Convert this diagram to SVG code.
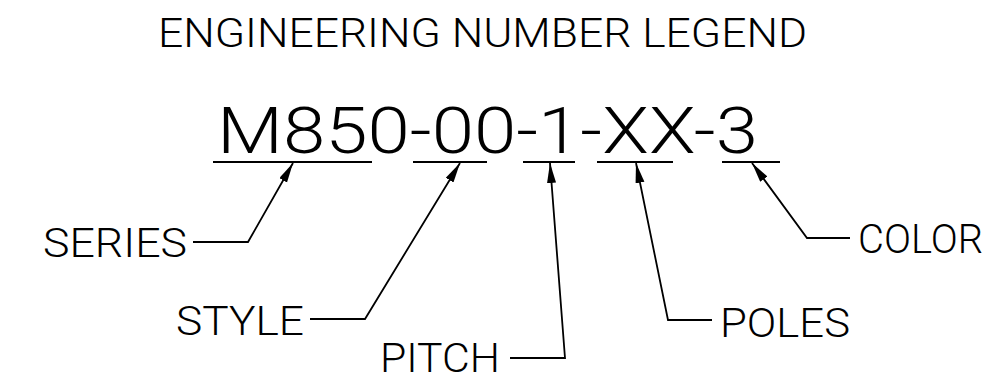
<svg xmlns="http://www.w3.org/2000/svg" width="1006" height="381" viewBox="0 0 1006 381">
<style>
text{font-family:"Roboto","Liberation Sans",sans-serif;font-weight:300;fill:#000;}
.t{font-size:40px;}
.m{font-size:64px;}
.l{font-size:40px;}
.c{fill:none;stroke:#000;stroke-width:1.8;}
.u{stroke:#000;stroke-width:2;}
</style>
<defs>
<marker id="ah" markerUnits="userSpaceOnUse" markerWidth="22" markerHeight="10" refX="20" refY="4.5" orient="auto">
<path d="M0,0 L20,4.5 L0,9 Z" fill="#000"/>
</marker>
</defs>
<rect width="1006" height="381" fill="#fff"/>
<g id="title"><text class="t" x="158" y="47" textLength="649" lengthAdjust="spacingAndGlyphs">ENGINEERING NUMBER LEGEND</text></g>
<g id="number">
<text class="m" x="217" y="153" textLength="541" lengthAdjust="spacingAndGlyphs">M850-00-1-XX-3</text>
<line class="u" x1="213" y1="162" x2="372" y2="162"/>
<line class="u" x1="413" y1="162" x2="487" y2="162"/>
<line class="u" x1="523" y1="162" x2="575" y2="162"/>
<line class="u" x1="597" y1="162" x2="673" y2="162"/>
<line class="u" x1="722" y1="162" x2="780" y2="162"/>
</g>
<g id="series"><text class="l" x="43" y="257" textLength="144" lengthAdjust="spacingAndGlyphs">SERIES</text></g>
<g id="style"><text class="l" x="176" y="335" textLength="128" lengthAdjust="spacingAndGlyphs">STYLE</text></g>
<g id="pitch"><text class="l" x="380" y="372" textLength="120" lengthAdjust="spacingAndGlyphs">PITCH</text></g>
<g id="poles"><text class="l" x="720" y="337" textLength="130" lengthAdjust="spacingAndGlyphs">POLES</text></g>
<g id="color"><text class="l" x="858" y="253" textLength="125" lengthAdjust="spacingAndGlyphs">COLOR</text></g>
<g id="connectors">
<polyline class="c" points="193,242 248,242 293,163" marker-end="url(#ah)"/>
<polyline class="c" points="310,319 365,319 460,163" marker-end="url(#ah)"/>
<polyline class="c" points="510,358 565,358 550,163" marker-end="url(#ah)"/>
<polyline class="c" points="712,320 668,320 636,163" marker-end="url(#ah)"/>
<polyline class="c" points="850,238 807,238 752,163" marker-end="url(#ah)"/>
</g>
</svg>
